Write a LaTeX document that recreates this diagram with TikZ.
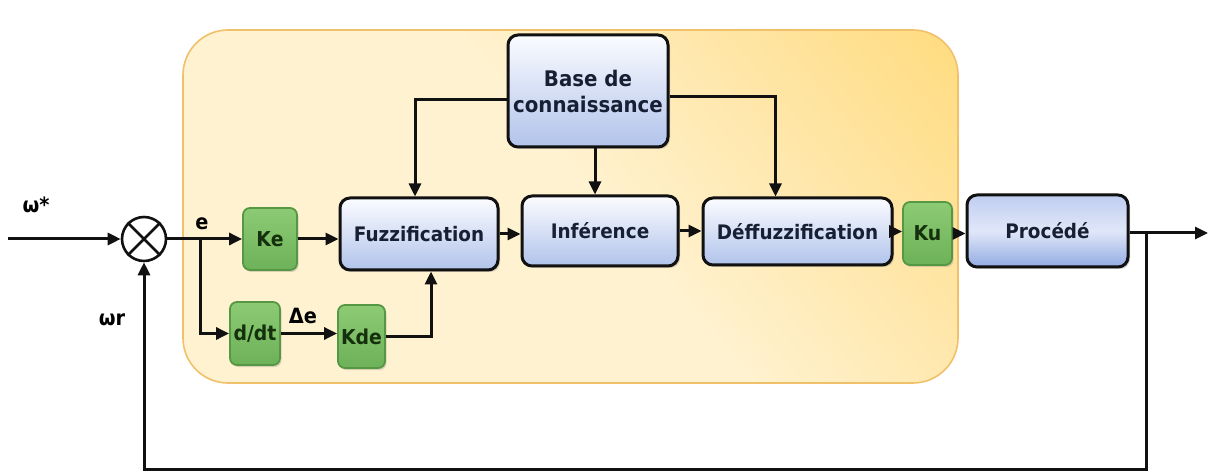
\documentclass[tikz,border=0pt]{standalone}
\usepackage{fontspec}
\setmainfont{DejaVu Sans}[FakeStretch=0.92]
\usetikzlibrary{arrows.meta,shadows}
\definecolor{zonelight}{HTML}{FFF2D0}
\definecolor{zonemid}{HTML}{FFE4A0}
\definecolor{zonedeep}{HTML}{FFD35A}
\definecolor{zoneedge}{HTML}{F0C06A}
\definecolor{bluetop}{HTML}{FBFCFF}
\definecolor{bluebot}{HTML}{B1C3EB}
\definecolor{procleft}{HTML}{BFCDF0}
\definecolor{procright}{HTML}{92ABE2}
\definecolor{greentop}{HTML}{8CCB74}
\definecolor{greenbot}{HTML}{6DB158}
\definecolor{greenedge}{HTML}{559743}
\definecolor{greentext}{HTML}{14300C}
\definecolor{navytext}{HTML}{161F33}
\definecolor{wire}{HTML}{111111}
% pale cream over most of the area, warming towards one corner
\pgfdeclarehorizontalshading{zoneshade}{100bp}{%
  color(0bp)=(zonelight); color(52bp)=(zonelight);
  color(72bp)=(zonemid); color(100bp)=(zonedeep)}
\begin{document}
\begin{tikzpicture}[x=1pt,y=-1pt,
  txt/.style={font=\fontsize{20}{23}\selectfont\bfseries},
  bluebox/.style={txt, draw=wire, line width=3pt, rounded corners=10pt,
    top color=bluetop, bottom color=bluebot, text=navytext,
    inner sep=0pt, align=center,
    drop shadow={opacity=0.35, shadow xshift=2pt, shadow yshift=-2pt}},
  gainbox/.style={font=\fontsize{20.5}{23}\selectfont\bfseries,
    draw=greenedge, line width=1.8pt, rounded corners=7pt,
    top color=greentop, bottom color=greenbot, text=greentext,
    inner sep=0pt,
    drop shadow={opacity=0.3, shadow xshift=1.5pt, shadow yshift=-2pt}},
  wirearrow/.style={draw=wire, line width=3pt,
    -{Triangle[length=13pt,width=12pt]}},
  sig/.style={font=\fontsize{21}{23}\selectfont\bfseries, text=black, inner sep=0pt}
]
\useasboundingbox (0,0) rectangle (1208,473);

% fuzzy controller area
\shade[rounded corners=45pt, shading=zoneshade, shading angle=40]
  (183,30) rectangle (958,383);
\draw[rounded corners=45pt, draw=zoneedge, line width=1.6pt]
  (183,30) rectangle (958,383);

% blocks
\node[bluebox, minimum width=160pt, minimum height=112pt,
      font=\fontsize{21.5}{26}\selectfont\bfseries] (base) at (588,91)
      {Base de\\connaissance};
\node[bluebox, minimum width=158pt, minimum height=72pt] (fuzz) at (419,234) {Fuzzification};
\node[bluebox, minimum width=156pt, minimum height=70pt] (inf) at (600,231) {Inférence};
\node[bluebox, minimum width=189pt, minimum height=67pt] (deff) at (797.5,231.5) {Déffuzzification};
\node[bluebox, minimum width=161pt, minimum height=72pt,
      left color=procleft, right color=procright, middle color=bluetop!55!procleft,
      shading angle=0] (proc) at (1047.5,231) {Procédé};

\node[gainbox, minimum width=54pt, minimum height=62pt] (ke) at (270,239) {Ke};
\node[gainbox, minimum width=50pt, minimum height=63pt] (dd) at (255,333.5) {d/dt};
\node[gainbox, minimum width=47pt, minimum height=63pt] (kde) at (361.5,336.5) {Kde};
\node[gainbox, minimum width=49pt, minimum height=63pt] (ku) at (927.5,233.5) {Ku};

% summing junction
\node[circle, draw=wire, line width=2.6pt, minimum size=44pt, inner sep=0pt,
      fill=white] (ring) at (144,239) {};
\draw[wire, line width=2.6pt] (ring.north west) -- (ring.south east)
                              (ring.north east) -- (ring.south west);

% signal labels
\node[sig] (wref) at (36,205) {ω*};
\node[sig] (wr) at (112,320) {ωr};
\node[sig] (elab) at (202,224) {e};
\node[sig] (delab) at (303,316) {Δe};

% free ends and branch points
\coordinate (input) at (8,239);
\coordinate (branch) at (200,239);
\coordinate (output) at (1208,233);
\coordinate (tap) at (1146,233);
\coordinate (tapdown) at (1146,469);

% forward path
\draw[wirearrow] (input) -- (ring.west);
\draw[wirearrow] (ring.east) -- (ke.west);
\draw[wirearrow] (branch) |- (dd.west);
\draw[wirearrow] (dd.east) -- (dd.east -| kde.west);
\draw[wirearrow] (ke.east) -- (ke.east -| fuzz.west);
\draw[wirearrow] (kde.east) -| ([xshift=12pt]fuzz.south);
\draw[wirearrow] (fuzz.east) -- (fuzz.east -| inf.west);
\draw[wirearrow] (inf.east) -- (inf.east -| deff.west);
\draw[wirearrow] (deff.east) -- (deff.east -| ku.west);
\draw[wirearrow] (ku.east) -- (ku.east -| proc.west);
\draw[wirearrow] (proc.east |- output) -- (output);

% knowledge base links
\draw[wirearrow] ([yshift=-9pt]base.west) -| ([xshift=-4pt]fuzz.north);
\draw[wirearrow] ([yshift=-6pt]base.east) -| ([xshift=-22pt]deff.north);
\coordinate (basemid) at ([xshift=7pt]base.south);
\draw[wirearrow] (basemid) -- (basemid |- inf.north);

% feedback loop
\draw[wirearrow] (tap) -- (tapdown) -| (ring.south);
\end{tikzpicture}
\end{document}
